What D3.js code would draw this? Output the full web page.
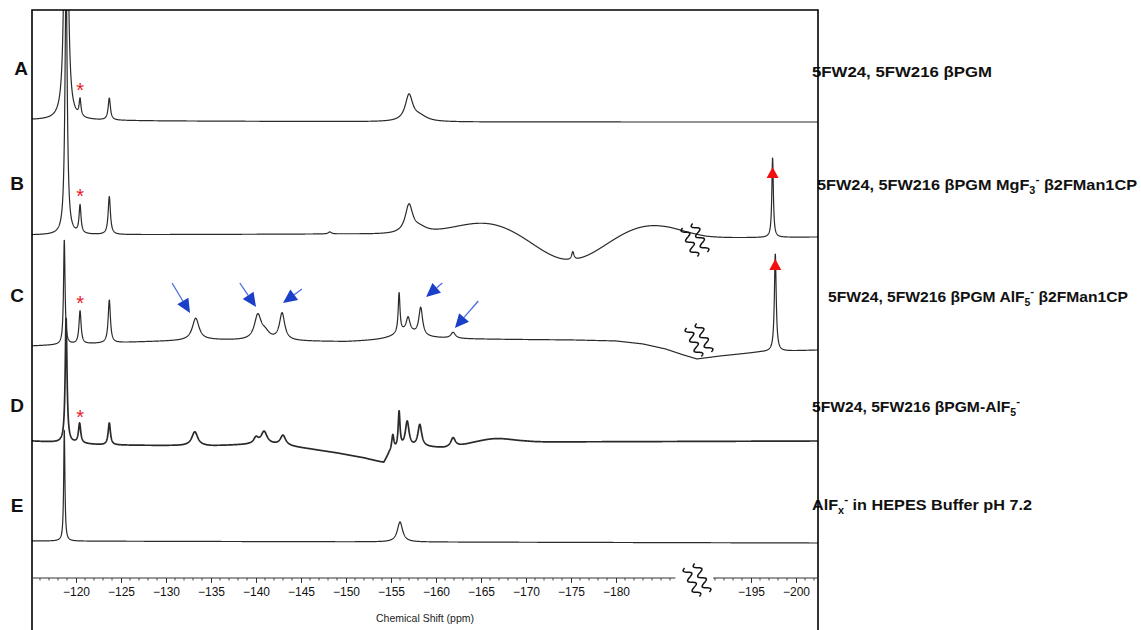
<!DOCTYPE html>
<html><head><meta charset="utf-8">
<script src="https://cdn.jsdelivr.net/npm/d3@7"></script>
<style>body{margin:0;background:#fff}</style>
</head><body>
<svg id="c" width="1141" height="630"></svg>
<script>
// ---------- DATA ----------
const rowLetters = ["A", "B", "C", "D", "E"];
const rowTexts = [
  [{t: "5FW24, 5FW216 βPGM"}],
  [{t: "5FW24, 5FW216 βPGM MgF"}, {t: "3", sub: true}, {t: "-", sup: true}, {t: " β2FMan1CP"}],
  [{t: "5FW24, 5FW216 βPGM AlF"}, {t: "5", sub: true}, {t: "-", sup: true}, {t: " β2FMan1CP"}],
  [{t: "5FW24, 5FW216 βPGM-AlF"}, {t: "5", sub: true}, {t: "-", sup: true}],
  [{t: "AlF"}, {t: "x", sub: true}, {t: "-", sup: true}, {t: " in HEPES Buffer pH 7.2"}]
];
// peaks: [ppm, height, half-width] (Lorentzian)
const peaksA = [[-118.9, 600, 0.15], [-120.45, 17, 0.12], [-123.7, 22, 0.15], [-157.0, 26, 0.5], [-158.2, 5, 1.0]];
const peaksB = [[-118.9, 260, 0.15], [-120.45, 28, 0.13], [-123.7, 38, 0.15], [-148.2, 2, 0.2], [-157.0, 28, 0.5], [-158.2, 5, 1.0], [-175.2, 8, 0.15], [-197.4, 80, 0.1]];
const peaksC = [[-118.7, 105, 0.1], [-120.45, 33, 0.14], [-123.7, 43, 0.15], [-133.3, 22, 0.45], [-140.2, 24, 0.45], [-141.0, 7, 0.6], [-142.9, 27, 0.35], [-155.9, 40, 0.12], [-156.9, 14, 0.25], [-158.3, 28, 0.25], [-156.6, 8, 1.6], [-161.9, 6, 0.3], [-197.7, 98, 0.12]];
const peaksD = [[-118.9, 125, 0.12], [-120.4, 20, 0.15], [-123.7, 22, 0.15], [-133.2, 14, 0.4], [-140.0, 6, 0.3], [-140.9, 12, 0.4], [-143.0, 10, 0.35], [-155.2, 16, 0.15], [-155.9, 36, 0.12], [-156.8, 26, 0.25], [-158.2, 22, 0.25], [-161.9, 9, 0.3]];
const peaksE = [[-118.7, 112, 0.08], [-156.0, 20, 0.35]];
// baseline anchors: [ppm, offset]
const baseA = [[-115, 1], [-130, 0], [-160, -1], [-202.5, -1]];
const baseB = [[-115, 0], [-150, 1], [-186, -1], [-190, -3], [-202.5, -2]];
const baseC = [[-115, -1], [-127, 3], [-135, 5], [-150, 3], [-160, 6], [-175, 5], [-180, 4], [-183, 1], [-185.5, -4], [-187.5, -10], [-189, -14], [-191.6, -11], [-196, -7], [-202.5, -5]];
const baseD = [[-115, 1], [-123, -3], [-135, -4], [-141, -2], [-143.5, -4], [-146, -7], [-149, -11], [-152, -16], [-154.2, -21], [-154.8, -12], [-156, -7], [-158.5, -5], [-161, -6], [-164, -3], [-170, 0], [-202.5, 1]];
const baseE = [[-115, 0], [-202.5, -2]];
// broad humps: [ppm, height, sigma] (Gaussian)
const humpsA = [];
const humpsB = [[-165.5, 12, 3.5], [-174.8, -25, 3.5], [-183.8, 11, 3.3]];
const humpsC = [];
const humpsD = [[-166.5, 5, 2]];
const humpsE = [];
// annotations
const starPpm = -120.45;         // red asterisk peaks (A-D)
const trianglePpm = [-197.4, -197.7]; // rows B, C
const arrowsC = [ // [tipPpm, tipInt, tailPpm, tailInt]
  [-132.67, 32, -130.67, 62],
  [-140.0, 38, -138.2, 62],
  [-143.0, 42, -145.1, 56],
  [-158.9, 48, -160.7, 62],
  [-162.1, 17, -164.7, 44]
];
const majorTicks = [-120, -125, -130, -135, -140, -145, -150, -155, -160, -165, -170, -175, -180, -195, -200];
const axisGap = [-186.6, -190.8];
const breakPpm = -189;

// ---------- LAYOUT ----------
const svg = d3.select("#c");
const X0 = 32, X1 = 818, Y0 = 10, AXY = 578;
const x = d3.scaleLinear().domain([-120, -200]).range([76, 796]);
const yInt = d3.scaleLinear().domain([0, 100]).range([0, -100]);
const rowBase = [121, 235, 345, 442, 541];
const allPeaks = [peaksA, peaksB, peaksC, peaksD, peaksE];
const allBase = [baseA, baseB, baseC, baseD, baseE];
const allHumps = [humpsA, humpsB, humpsC, humpsD, humpsE];

const grid = d3.range(x.invert(X0), x.invert(X1), -0.02);
function spectrum(peaks, base, humps) {
  const bs = d3.scaleLinear().domain(base.map(d => d[0])).range(base.map(d => d[1]));
  return grid.map(p => {
    let v = bs(p);
    for (const [c, h, w] of peaks) { const d = (p - c) / w; v += h / (1 + d * d); }
    for (const [c, h, s] of humps) { const d = (p - c) / s; v += h * Math.exp(-0.5 * d * d); }
    return [p, v];
  });
}

svg.append("defs").append("clipPath").attr("id", "clip")
  .append("rect").attr("x", X0).attr("y", Y0).attr("width", X1 - X0).attr("height", AXY - Y0 - 4);

const plot = svg.append("g").attr("clip-path", "url(#clip)");
const line = d3.line().x(d => x(d[0])).y(d => yInt(d[1]));
const specData = allPeaks.map((p, i) => spectrum(p, allBase[i], allHumps[i]));
specData.forEach((s, i) => {
  plot.append("path").datum(s)
    .attr("transform", `translate(0,${rowBase[i]})`)
    .attr("d", line).attr("fill", "none")
    .attr("stroke", "#2a2a2a").attr("stroke-width", i === 3 ? 1.7 : 1.2)
    .attr("stroke-linejoin", "round");
});

function valueAt(i, ppm) {
  const s = specData[i];
  let best = s[0];
  for (const d of s) if (Math.abs(d[0] - ppm) < Math.abs(best[0] - ppm)) best = d;
  return best[1];
}

// break glyph
function breakGlyph(cx, cy) {
  const g = svg.append("g").attr("transform", `translate(${cx},${cy}) rotate(-24)`);
  const pts = d3.range(-16, 16.5, 0.5);
  [-5.5, 5.5].forEach(off => {
    g.append("path")
      .attr("d", d3.line()(pts.map(t => [off + 3.5 * Math.sin(t * 2 * Math.PI / 11), t])))
      .attr("fill", "none").attr("stroke", "#111").attr("stroke-width", 1.5);
  });
}
breakGlyph(x(breakPpm) - 2, rowBase[1] + 5);
breakGlyph(x(breakPpm) + 2, rowBase[2] - 5);
breakGlyph(x(breakPpm), AXY + 2);

// asterisks
for (let i = 0; i < 4; i++) {
  const top = rowBase[i] + yInt(valueAt(i, starPpm));
  svg.append("text").attr("x", x(starPpm)).attr("y", top - 1)
    .attr("text-anchor", "middle").attr("fill", "#e8201f")
    .attr("font-family", "Liberation Sans, Arial, sans-serif").attr("font-size", 20).text("*");
}
// triangles
trianglePpm.forEach((p, k) => {
  const i = k + 1;
  const top = rowBase[i] + yInt(valueAt(i, p));
  const cx = x(p), cy = top + (i === 1 ? 15 : 11);
  svg.append("path").attr("d", `M${cx},${cy - 6}L${cx + 6},${cy + 5}L${cx - 6},${cy + 5}Z`).attr("fill", "#f01010");
});
// arrows
arrowsC.forEach(([tp, ti, sp, si]) => {
  const tx = x(tp), ty = rowBase[2] + yInt(ti), sx = x(sp), sy = rowBase[2] + yInt(si);
  const ang = Math.atan2(ty - sy, tx - sx);
  const L = 14, W = 6.5;
  const bx = tx - L * Math.cos(ang), by = ty - L * Math.sin(ang);
  svg.append("line").attr("x1", sx).attr("y1", sy).attr("x2", bx).attr("y2", by)
    .attr("stroke", "#4a6ee0").attr("stroke-width", 1.3);
  const nx = -Math.sin(ang) * W, ny = Math.cos(ang) * W;
  svg.append("path").attr("d", `M${tx},${ty}L${bx + nx},${by + ny}L${bx - nx},${by - ny}Z`).attr("fill", "#1a3fc8");
});

// row letters
const letterPos = [[21, 68], [17, 183], [17, 295], [17, 405], [17, 505]];
rowLetters.forEach((l, i) => {
  svg.append("text").attr("x", letterPos[i][0]).attr("y", letterPos[i][1] + 7)
    .attr("text-anchor", "middle").attr("font-family", "Liberation Sans, Arial, sans-serif")
    .attr("font-weight", "bold").attr("font-size", 19).attr("fill", "#111").text(l);
});

// right labels
const textX = [812, 817, 828, 812, 812];
const textY = [72, 185, 297, 407, 505];
const textW = [180, 320, 300, 208, 220];
rowTexts.forEach((parts, i) => {
  const t = svg.append("text").attr("x", textX[i]).attr("y", textY[i] + 5)
    .attr("font-family", "Liberation Sans, Arial, sans-serif").attr("font-weight", "bold")
    .attr("font-size", 15).attr("fill", "#111")
    .attr("textLength", textW[i]).attr("lengthAdjust", "spacingAndGlyphs");
  let shift = 0;
  parts.forEach(p => {
    const ts = t.append("tspan").text(p.t);
    if (p.sub) { ts.attr("dy", 4 - shift).attr("font-size", 10); shift = 4; }
    else if (p.sup) { ts.attr("dy", -7 - shift).attr("font-size", 11); shift = -7; }
    else { if (shift !== 0) ts.attr("dy", -shift); shift = 0; }
  });
});

// frame
svg.append("path").attr("d", `M${X0},630V${Y0}H${X1}V630`)
  .attr("fill", "none").attr("stroke", "#000").attr("stroke-width", 1.6);

// axis
const ax = svg.append("g");
ax.append("path").attr("d", `M${X0},${AXY}H${x(axisGap[0])}M${x(axisGap[1])},${AXY}H${X1}`)
  .attr("stroke", "#333").attr("stroke-width", 1);
const minor = d3.range(-116, -203, -1).filter(v => !majorTicks.includes(v) && (v > axisGap[0] || v < axisGap[1]));
ax.selectAll(".mn").data(minor).join("line")
  .attr("x1", d => x(d)).attr("x2", d => x(d)).attr("y1", AXY).attr("y2", AXY + 2.5)
  .attr("stroke", "#333").attr("stroke-width", 0.9);
const axisG = ax.append("g").attr("transform", `translate(0,${AXY})`)
  .call(d3.axisBottom(x).tickValues(majorTicks).tickSize(5).tickPadding(4)
    .tickFormat(d => "\u2212" + Math.abs(d)));
axisG.select(".domain").remove();
axisG.selectAll("line").attr("stroke", "#333");
axisG.selectAll("text").attr("font-family", "Liberation Sans, Arial, sans-serif")
  .attr("font-size", 12).attr("fill", "#111");
svg.append("text").attr("x", 425).attr("y", 622).attr("text-anchor", "middle")
  .attr("font-family", "Liberation Sans, Arial, sans-serif").attr("font-size", 10.5)
  .attr("fill", "#222").text("Chemical Shift (ppm)");
</script>
</body></html>
